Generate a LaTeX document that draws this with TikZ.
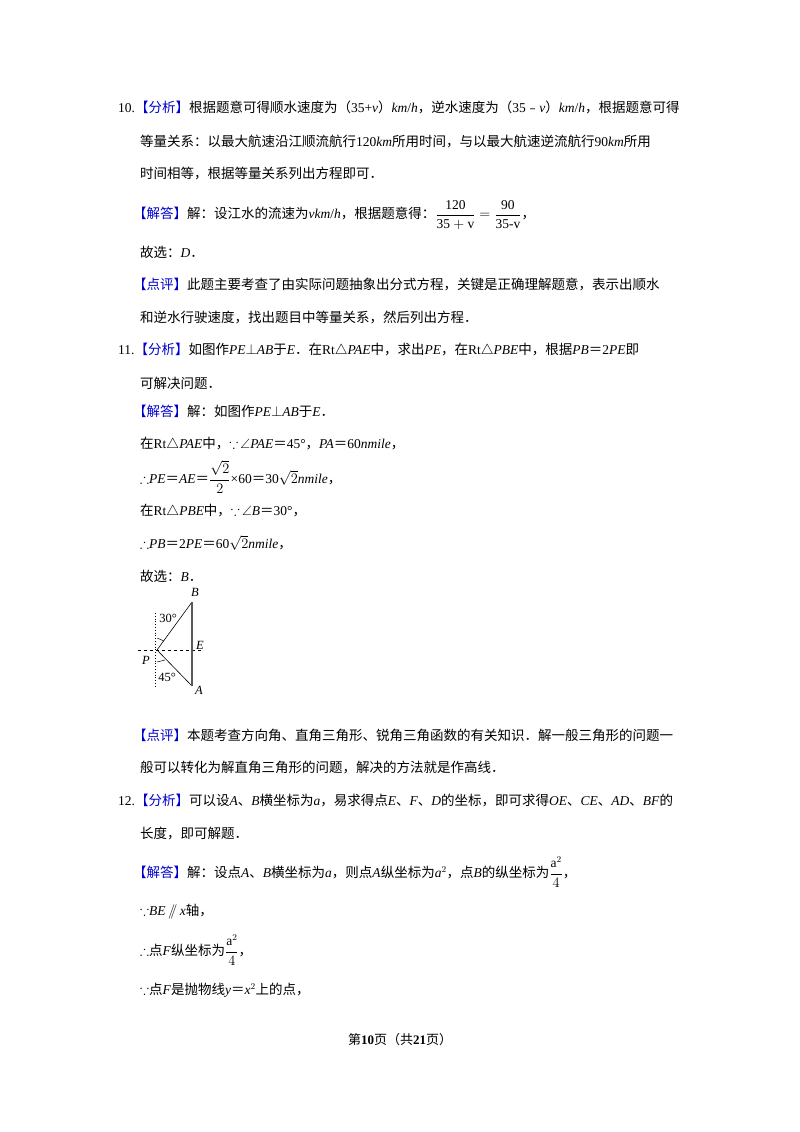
\documentclass[tikz,border=0pt]{standalone}
\usepackage{amsmath,amssymb}
\usepackage{fontspec}
\setmainfont{Liberation Serif}
\newfontfamily\cjkf{Noto Sans CJK SC}
\newcommand{\zh}[1]{{\cjkf #1}}
\newcommand{\bl}[1]{{\color{blue!80!black}\cjkf #1}}
\begin{document}
\begin{tikzpicture}[x=1pt,y=-1pt,
  ln/.style={anchor=west,inner sep=0pt,font=\fontsize{13.5}{16}\selectfont},
  lab/.style={inner sep=0pt,font=\fontsize{12.5}{14}\selectfont\itshape},
  dsh/.style={dashed,line width=0.6pt},
  dot/.style={dotted,line width=0.8pt}]
\useasboundingbox (0,0) rectangle (800,1132);
\node[ln] (l1) at (118,107) {10.\bl{【分析】}\zh{根据题意可得顺水速度为（}35+\textit{v}\zh{）}\textit{km}/\textit{h}\zh{，逆水速度为（}35\zh{﹣}\textit{v}\zh{）}\textit{km}/\textit{h}\zh{，根据题意可得}};
\node[ln] (l2) at (140,141) {\zh{等量关系：以最大航速沿江顺流航行}120\textit{km}\zh{所用时间，与以最大航速逆流航行}90\textit{km}\zh{所用}};
\node[ln] (l3) at (140,174) {\zh{时间相等，根据等量关系列出方程即可．}};
\node[ln] (l4) at (133,215) {\bl{【解答】}\zh{解：设江水的流速为}\textit{v}\textit{km}/\textit{h}\zh{，根据题意得：}$\dfrac{\mathrm{120}}{\mathrm{35+v}}=\dfrac{\mathrm{90}}{\mathrm{35\text{-}v}}$\zh{，}};
\node[ln] (l5) at (140,252) {\zh{故选：}\textit{D}\zh{．}};
\node[ln] (l6) at (133,284) {\bl{【点评】}\zh{此题主要考查了由实际问题抽象出分式方程，关键是正确理解题意，表示出顺水}};
\node[ln] (l7) at (140,317) {\zh{和逆水行驶速度，找出题目中等量关系，然后列出方程．}};
\node[ln] (l8) at (118,350) {11.\bl{【分析】}\zh{如图作}\textit{PE}$\perp$\textit{AB}\zh{于}\textit{E}\zh{．在}Rt$\triangle$\textit{PAE}\zh{中，求出}\textit{PE}\zh{，在}Rt$\triangle$\textit{PBE}\zh{中，根据}\textit{PB}\zh{＝}2\textit{PE}\zh{即}};
\node[ln] (l9) at (140,383) {\zh{可解决问题．}};
\node[ln] (l10) at (133,411) {\bl{【解答】}\zh{解：如图作}\textit{PE}$\perp$\textit{AB}\zh{于}\textit{E}\zh{．}};
\node[ln] (l11) at (140,444) {\zh{在}Rt$\triangle$\textit{PAE}\zh{中，}$\because$\,$\angle$\textit{PAE}\zh{＝}45°\zh{，}\textit{PA}\zh{＝}60\textit{nmile}\zh{，}};
\node[ln] (l12) at (140,477) {$\therefore$\textit{PE}\zh{＝}\textit{AE}\zh{＝}$\dfrac{\sqrt{2}}{2}$×60\zh{＝}30$\sqrt{2}$\textit{nmile}\zh{，}};
\node[ln] (l13) at (140,511) {\zh{在}Rt$\triangle$\textit{PBE}\zh{中，}$\because$\,$\angle$\textit{B}\zh{＝}30°\zh{，}};
\node[ln] (l14) at (140,543) {$\therefore$\textit{PB}\zh{＝}2\textit{PE}\zh{＝}60$\sqrt{2}$\textit{nmile}\zh{，}};
\node[ln] (l15) at (140,576) {\zh{故选：}\textit{B}\zh{．}};
% figure
\coordinate (P) at (157,650);
\coordinate (B) at (192,602);
\coordinate (A) at (192,686);
\coordinate (E) at (192,650);
\coordinate (vt) at (155,613);
\coordinate (vb) at (155,688);
\coordinate (hl) at (138,650);
\coordinate (hr) at (202,650);
\draw[dot] (vt) -- (vb);
\draw[dsh] (hl) -- (hr);
\draw[line width=0.6pt] (B) -- (P) -- (A);
\draw[line width=1.4pt,gray!70!black] (B) -- (A);
\node[lab] (nB) at (195,592) {B};
\node[lab] (nE) at (200,645) {E};
\node[lab] (nA) at (199,690) {A};
\node[lab] (nP) at (146,660) {P};
\node[inner sep=0pt,font=\fontsize{12.5}{14}\selectfont] (a30) at (168,618) {30°};
\node[inner sep=0pt,font=\fontsize{12.5}{14}\selectfont] (a45) at (167,677) {45°};
\draw[line width=0.5pt] (157,638) -- (164,641);
\draw[line width=0.5pt] (157,662) -- (165,660);
\node[ln] (l16) at (133,735) {\bl{【点评】}\zh{本题考查方向角、直角三角形、锐角三角函数的有关知识．解一般三角形的问题一}};
\node[ln] (l17) at (140,768) {\zh{般可以转化为解直角三角形的问题，解决的方法就是作高线．}};
\node[ln] (l18) at (118,801) {12.\bl{【分析】}\zh{可以设}\textit{A}\zh{、}\textit{B}\zh{横坐标为}\textit{a}\zh{，易求得点}\textit{E}\zh{、}\textit{F}\zh{、}\textit{D}\zh{的坐标，即可求得}\textit{OE}\zh{、}\textit{CE}\zh{、}\textit{AD}\zh{、}\textit{BF}\zh{的}};
\node[ln] (l19) at (140,834) {\zh{长度，即可解题．}};
\node[ln] (l20) at (133,872) {\bl{【解答】}\zh{解：设点}\textit{A}\zh{、}\textit{B}\zh{横坐标为}\textit{a}\zh{，则点}\textit{A}\zh{纵坐标为}\textit{a}$^2$\zh{，点}\textit{B}\zh{的纵坐标为}$\dfrac{\mathrm{a}^2}{4}$\zh{，}};
\node[ln] (l21) at (140,912) {$\because$\textit{BE}$\,/\!\!/\,$\textit{x}\zh{轴，}};
\node[ln] (l22) at (140,950) {$\therefore$\zh{点}\textit{F}\zh{纵坐标为}$\dfrac{\mathrm{a}^2}{4}$\zh{，}};
\node[ln] (l23) at (140,990) {$\because$\zh{点}\textit{F}\zh{是抛物线}\textit{y}\zh{＝}\textit{x}$^2$\zh{上的点，}};
\node[inner sep=0pt,font=\fontsize{13}{15}\selectfont] (ft) at (400,1040) {\zh{第}\textbf{10}\zh{页（共}\textbf{21}\zh{页）}};
\end{tikzpicture}
\end{document}
